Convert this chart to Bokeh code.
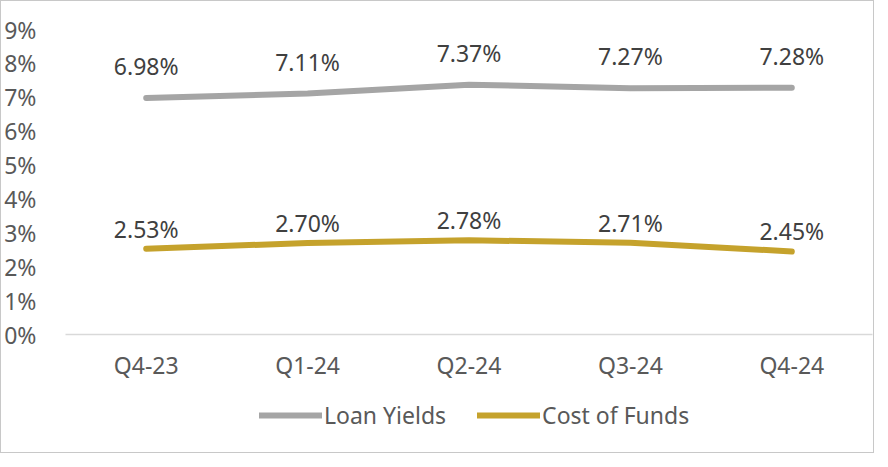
from bokeh.plotting import figure
from bokeh.layouts import column
from bokeh.models import ColumnDataSource, FactorRange, Range1d, FixedTicker, LabelSet, Legend, LegendItem
from bokeh.core.properties import value
from bokeh.embed import file_html
from bokeh.resources import INLINE

quarters = ["Q4-23", "Q1-24", "Q2-24", "Q3-24", "Q4-24"]
loan_yields = [6.98, 7.11, 7.37, 7.27, 7.28]
cost_of_funds = [2.53, 2.70, 2.78, 2.71, 2.45]
y_ticks = [0, 1, 2, 3, 4, 5, 6, 7, 8, 9]
y_tick_labels = ["0%", "1%", "2%", "3%", "4%", "5%", "6%", "7%", "8%", "9%"]

FONT = "Noto Sans"
GRAY = "#A5A5A5"
GOLD = "#C5A22C"

src = ColumnDataSource(dict(
    q=quarters,
    loan=loan_yields,
    cost=cost_of_funds,
    loan_lbl=[f"{v:.2f}%" for v in loan_yields],
    cost_lbl=[f"{v:.2f}%" for v in cost_of_funds],
))

p = figure(width=872, height=391, x_range=FactorRange(*quarters), y_range=Range1d(0, 9),
           output_backend="svg", toolbar_location=None,
           min_border_left=64, min_border_right=1, min_border_top=28, min_border_bottom=58)
p.outline_line_color = None

p.line("q", "loan", source=src, line_color=GRAY, line_width=6, line_cap="round", line_join="round")
p.line("q", "cost", source=src, line_color=GOLD, line_width=6, line_cap="round", line_join="round")

p.add_layout(LabelSet(x="q", y="loan", text="loan_lbl", source=src, y_offset=32,
                      text_align="center", text_baseline="middle", text_font=value(FONT),
                      text_font_size="23px", text_color="#404040"))
p.add_layout(LabelSet(x="q", y="cost", text="cost_lbl", source=src, y_offset=20,
                      text_align="center", text_baseline="middle", text_font=value(FONT),
                      text_font_size="23px", text_color="#404040"))

p.xgrid.visible = False
p.ygrid.visible = False

xa = p.xaxis[0]
xa.axis_line_color = "#D9D9D9"
xa.axis_line_width = 1.5
xa.major_tick_line_color = None
xa.minor_tick_line_color = None
xa.major_label_standoff = 8
xa.major_label_text_font = FONT
xa.major_label_text_font_size = "23px"
xa.major_label_text_color = "#595959"

ya = p.yaxis[0]
ya.ticker = FixedTicker(ticks=y_ticks)
ya.major_label_overrides = {t: l for t, l in zip(y_ticks, y_tick_labels)}
ya.axis_line_color = None
ya.major_tick_line_color = None
ya.minor_tick_line_color = None
ya.major_label_standoff = 23
ya.major_label_text_font = FONT
ya.major_label_text_font_size = "23px"
ya.major_label_text_color = "#595959"

# legend strip: same series, drawn outside its visible range so only the legend shows
lg = figure(width=872, height=60, x_range=FactorRange(*quarters), y_range=Range1d(-100, -99),
            output_backend="svg", toolbar_location=None, x_axis_type=None, y_axis_type=None,
            min_border=0)
lg.outline_line_color = None
lg.xgrid.visible = False
lg.ygrid.visible = False
l1 = lg.line("q", "loan", source=src, line_color=GRAY, line_width=6, line_cap="round")
l2 = lg.line("q", "cost", source=src, line_color=GOLD, line_width=6, line_cap="round")
legend = Legend(items=[LegendItem(label="Loan Yields", renderers=[l1]),
                       LegendItem(label="Cost of Funds", renderers=[l2])],
                orientation="horizontal", location=(194, 21),
                glyph_width=63, glyph_height=20, label_standoff=2, spacing=31,
                padding=0, margin=0, border_line_color=None, background_fill_alpha=0,
                label_text_font=FONT, label_text_font_size="23px", label_text_color="#595959")
lg.add_layout(legend)

layout = column(p, lg, spacing=0)
layout.styles = {"border": "1px solid #C8C8C8", "box-sizing": "border-box"}

open("out.html", "w").write(file_html(layout, INLINE))
